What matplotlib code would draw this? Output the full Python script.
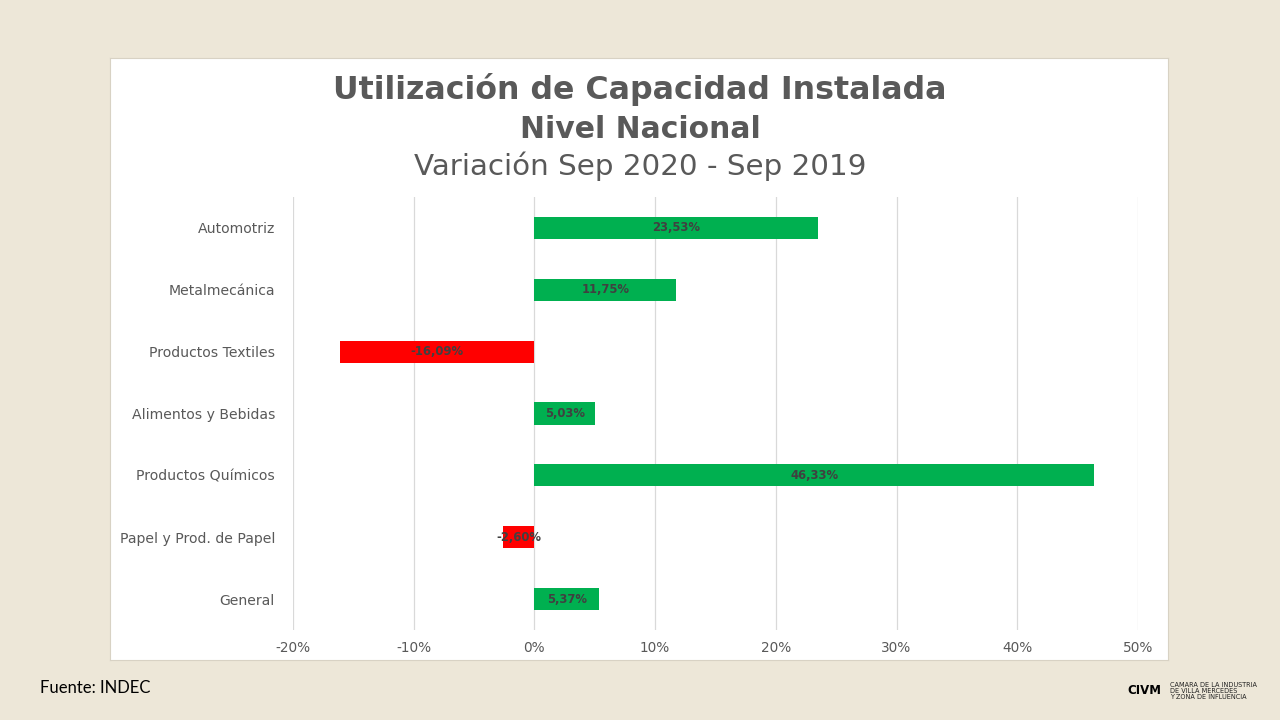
import matplotlib

matplotlib.use("Agg")
import matplotlib.pyplot as plt
from matplotlib.ticker import FuncFormatter

plt.rcParams["font.family"] = ["DejaVu Sans"]

# Data
categories = [
    "Automotriz",
    "Metalmecánica",
    "Productos Textiles",
    "Alimentos y Bebidas",
    "Productos Químicos",
    "Papel y Prod. de Papel",
    "General",
]
values = [23.53, 11.75, -16.09, 5.03, 46.33, -2.60, 5.37]
x_ticks = [-20, -10, 0, 10, 20, 30, 40, 50]

GREEN = "#00B050"
RED = "#FF0000"
TEXT = "#595959"
BG = "#EDE7D8"

fig = plt.figure(figsize=(12.8, 7.2), dpi=100, facecolor=BG)

# white chart panel, as an empty axes behind the plot
panel = fig.add_axes([110 / 1280, 1 - 660 / 720, 1058 / 1280, 602 / 720], zorder=0)
panel.set_facecolor("white")
panel.set_xticks([])
panel.set_yticks([])
for s in panel.spines.values():
    s.set_color("#D8D2C4")
    s.set_linewidth(0.8)

ax = fig.add_axes([293 / 1280, 1 - 630 / 720, 845 / 1280, 433 / 720], zorder=1)
ax.set_facecolor("none")

ypos = list(range(len(categories)))
colors = [GREEN if v >= 0 else RED for v in values]
ax.barh(ypos, values, height=0.36, color=colors, zorder=3)

for y, v in zip(ypos, values):
    label = f"{v:.2f}%".replace(".", ",")
    ax.text(v / 2, y, label, ha="center", va="center", fontsize=8.4,
            fontweight="bold", color="#404040", zorder=4)

ax.set_xlim(-20, 50)
ax.set_ylim(6.5, -0.5)
ax.set_xticks(x_ticks)
ax.xaxis.set_major_formatter(FuncFormatter(lambda v, _: f"{v:.0f}%"))
ax.set_yticks(ypos)
ax.set_yticklabels(categories)
ax.tick_params(axis="both", length=0, colors=TEXT)
ax.tick_params(axis="y", pad=13, labelsize=10.1)
ax.tick_params(axis="x", pad=8, labelsize=9.8)
ax.grid(axis="x", color="#D9D9D9", linewidth=0.9, zorder=0)
for s in ax.spines.values():
    s.set_visible(False)

fig.text(0.5, 1 - 89 / 720, "Utilización de Capacidad Instalada", ha="center",
         va="center", fontsize=22.8, fontweight="bold", color=TEXT, zorder=5)
fig.text(0.5, 1 - 129 / 720, "Nivel Nacional", ha="center", va="center",
         fontsize=21.5, fontweight="bold", color=TEXT, zorder=5)
fig.text(0.5, 1 - 166 / 720, "Variación Sep 2020 - Sep 2019", ha="center",
         va="center", fontsize=21.2, color=TEXT, zorder=5)

fig.text(40 / 1280, 1 - 688 / 720, "Fuente: INDEC", ha="left", va="center",
         fontsize=12, color="black", family=["Lato", "DejaVu Sans"])

# institution logo (text form)
fig.text(1127 / 1280, 1 - 690 / 720, "CIVM", ha="left", va="center",
         fontsize=8.5, fontweight="bold", color="black")
fig.text(1170 / 1280, 1 - 691 / 720,
         "CAMARA DE LA INDUSTRIA\nDE VILLA MERCEDES\nY ZONA DE INFLUENCIA",
         ha="left", va="center", fontsize=4.7, color="#222222", linespacing=1.0)

fig.savefig("out.png", dpi=100, facecolor=BG)
